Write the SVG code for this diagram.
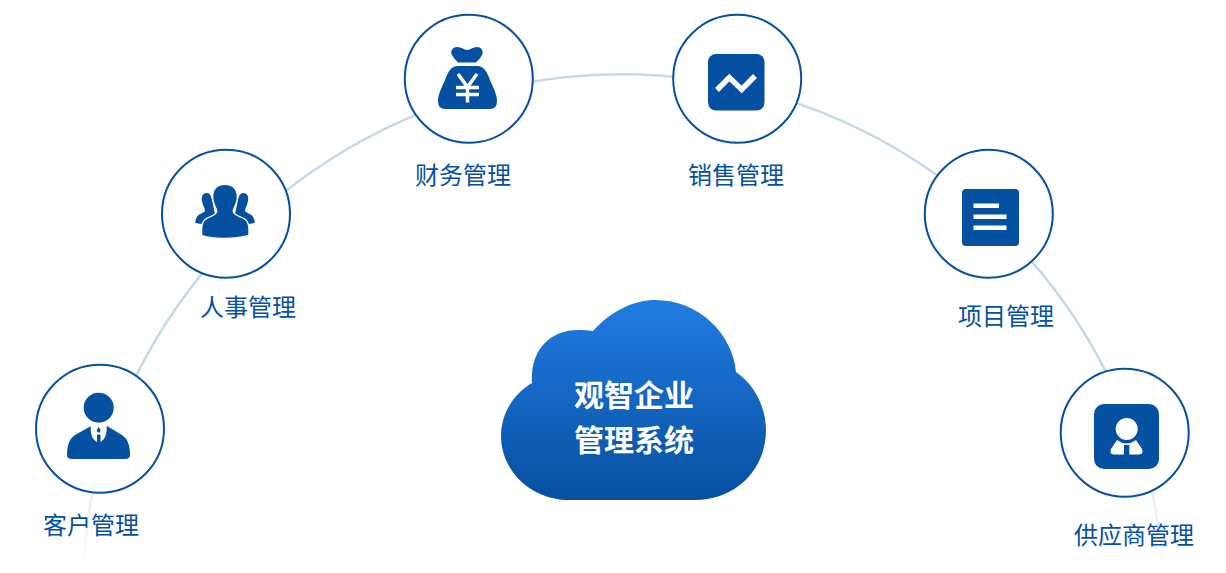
<svg xmlns="http://www.w3.org/2000/svg" width="1226" height="573" viewBox="0 0 1226 573">
<style>
.ring{fill:#fff;stroke:#0650a2;stroke-width:2}
.ic{fill:#0650a2}
.cut{fill:#fff}
.lbl{font:24px "Noto Sans CJK SC","Liberation Sans",sans-serif;fill:#0650a2}
.ttl{font:bold 30px "Noto Sans CJK SC","Liberation Sans",sans-serif;fill:#fff}
.arc{fill:none;stroke-width:2.500}
.yen{fill:none;stroke:#fff;stroke-width:3.500}
</style>
<defs>
<linearGradient id="cg" x1="0" y1="0" x2="0" y2="1"><stop offset="0" stop-color="#217ce2"/><stop offset="1" stop-color="#064fa0"/></linearGradient>
<linearGradient id="fl" gradientUnits="userSpaceOnUse" x1="0" y1="490" x2="0" y2="568"><stop offset="0" stop-color="#e3ebf5"/><stop offset="1" stop-color="#fff"/></linearGradient>
</defs>
<g id="connectors">
<path class="arc" stroke="#c6d7e9" d="M113 430A542 542 0 0 1 1131 430"/>
<path class="arc" stroke="url(#fl)" d="M93 490Q86 525 83 568"/>
<path class="arc" stroke="url(#fl)" d="M1152 490Q1159 525 1163 568"/>
</g>
<g id="customer">
<circle class="ring" cx="100" cy="428.800" r="64"/>
<circle class="ic" cx="98.700" cy="407.700" r="15"/>
<path class="ic" d="M91 426L75 435C69 439 67 446 67 455Q67 459 72 459H125Q130 459 130 455C130 446 128 439 122 435L107 426Z"/>
<path class="cut" d="M90.700 426C90.500 434 92 439 96.500 441.700H101C105 439 107 434 106.700 426Z"/>
<path class="ic" d="M98.700 427L100.700 430 99.700 432.500H97.700L96.700 430ZM97 434.500H100.500V443H97Z"/>
<text class="lbl" x="43" y="534">客户管理</text>
</g>
<g id="hr">
<circle class="ring" cx="226" cy="213.700" r="64"/>
<path id="hs" class="ic" d="M207 193C203 193 201 196 202 201C202.500 205 205 208 205 211C204 213 198 214 197 217C195.500 219 195 222 195.500 223L201 224 215 214 212 200C211 196 210 193 207 193Z"/>
<path class="ic" d="M243 193C247 193 249 196 248 201C247.500 205 245 208 245 211C246 213 252 214 253 217C254.500 219 255 222 254.500 223L249 224 235 214 238 200C239 196 240 193 243 193Z"/>
<path class="ic" stroke="#fff" stroke-width="2.500" paint-order="stroke" d="M225 185C232 185 237 189 236.700 197C236.500 203 233.500 207 232.500 211C233 216 241 217 245 220C247.500 222 248.300 226 248.300 229V235Q236 238 225 237.700Q212 238 202.300 235V229C202.300 226 203 222 205.500 220C209 217 217 216 217.500 211C216.500 207 213.500 203 213.300 197C213 189 218 185 225 185Z"/>
<text class="lbl" x="200" y="316">人事管理</text>
</g>
<g id="finance">
<circle class="ring" cx="468.800" cy="78.800" r="64"/>
<path class="ic" d="M457 47C462 47 464 50 467 50C470 50 473 47 477 47C482 47 484 52 482 55C480 59 477 61 476 62.500H458C457 61 454 59 452 55C450 52 452 47 457 47Z"/>
<path class="ic" d="M458 66H477C484 66 487 72 490 80C493 87 497 94 497 101Q497 109 490 109H445Q438 109 438 101C438 94 442 87 445 80C448 72 451 66 458 66Z"/>
<path class="yen" d="M458 74L467.500 87 477 74M456 87.500H479M456 94.500H479M467.500 87V102.500"/>
<text class="lbl" x="415" y="184">财务管理</text>
</g>
<g id="sales">
<circle class="ring" cx="737.200" cy="78.800" r="64"/>
<rect class="ic" x="708" y="54" width="56.500" height="56.500" rx="8"/>
<path d="M717 90L729.300 77.500 741.700 89.500 755 76" fill="none" stroke="#fff" stroke-width="5.500"/>
<text class="lbl" x="688" y="184">销售管理</text>
</g>
<g id="project">
<circle class="ring" cx="988.800" cy="213.700" r="64"/>
<rect class="ic" x="962" y="189" width="57" height="57" rx="4"/>
<rect class="cut" x="973.500" y="203.500" width="25.500" height="4.500"/>
<rect class="cut" x="973.500" y="214.500" width="33" height="4.500"/>
<rect class="cut" x="973.500" y="225.500" width="33" height="4.500"/>
<text class="lbl" x="958" y="325">项目管理</text>
</g>
<g id="supplier">
<circle class="ring" cx="1124.700" cy="432.800" r="64"/>
<rect class="ic" x="1094" y="404" width="65" height="65" rx="10"/>
<circle class="cut" cx="1126.700" cy="429" r="11"/>
<path class="cut" d="M1117 440Q1126.500 447 1136 440L1142 449Q1144 454 1139 454.500H1129.300V445H1124V454.500H1114Q1109 454 1111 449Z"/>
<text class="lbl" x="1074" y="544">供应商管理</text>
</g>
<g id="cloud">
<path fill="url(#cg)" d="M593 331C612 310 635 300 655 300C700 300 733 335 736 372C755 385 766 408 766 430C766 470 735 500 695 500H570C530 500 501 470 501 436C501 412 515 393 532 383C530 350 550 330 578 330C583 330 588 330 593 331Z"/>
<text class="ttl" x="574" y="406">观智企业</text>
<text class="ttl" x="574" y="451">管理系统</text>
</g>
</svg>
